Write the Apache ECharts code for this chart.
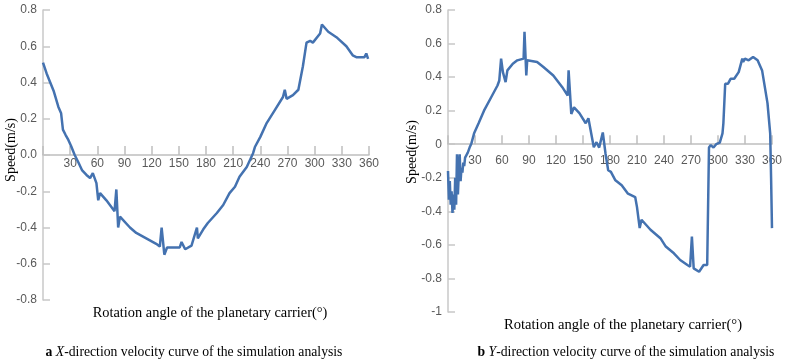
<!DOCTYPE html>
<html><head><meta charset="utf-8">
<script src="https://cdn.jsdelivr.net/npm/echarts@6/dist/echarts.min.js"></script>
<style>html,body{margin:0;padding:0;background:#fff}#c{width:785px;height:361px}</style>
</head><body><div id="c"></div>
<script>
// Left chart (a): X-direction velocity, [angle deg, speed m/s]
const xAngles = [0,4,8,12,17,18,20,22,25,28,31,35,39,43,48,52,55,59,61,63,70,79,81,83,85,96,103,114,125,129,131,134,137,151,153,157,164,170,171,177,182,192,199,206,212,217,225,232,234,240,247,256,265,267,269,276,282,284,287,291,295,298,300,306,308,315,324,335,342,346,355,357,359];
const xSpeeds = [0.51,0.45,0.40,0.35,0.265,0.27,0.23,0.14,0.11,0.083,0.05,0.0,-0.04,-0.083,-0.11,-0.127,-0.10,-0.155,-0.25,-0.21,-0.25,-0.31,-0.19,-0.40,-0.34,-0.40,-0.43,-0.46,-0.49,-0.505,-0.40,-0.55,-0.51,-0.51,-0.48,-0.52,-0.50,-0.40,-0.46,-0.41,-0.375,-0.32,-0.276,-0.21,-0.175,-0.12,-0.066,0.01,0.044,0.10,0.176,0.248,0.32,0.36,0.31,0.33,0.36,0.35,0.49,0.62,0.63,0.62,0.63,0.67,0.72,0.68,0.65,0.60,0.55,0.54,0.54,0.56,0.53];
// Right chart (b): Y-direction velocity
const yAngles = [0,1,2,3,4,5,6,7,8,9,10,11,12,13,14,15,16,17,18,19,20,22,24,26,29,34,40,48,55,57,59,61,64,66,72,77,84,85,87,88,99,106,117,127,133,134,137,140,146,153,156,162,165,168,172,175,178,181,186,193,200,208,210,213,215,225,236,242,251,258,266,269,271,273,279,280,284,288,289,290,292,295,298,300,302,305,306,308,311,314,318,323,327,328,330,334,339,344,349,355,358,359,360];
const ySpeeds = [-0.16,-0.33,-0.22,-0.36,-0.28,-0.41,-0.30,-0.39,-0.20,-0.36,-0.06,-0.30,-0.17,-0.06,-0.22,-0.14,-0.17,-0.11,-0.13,-0.08,-0.09,-0.05,-0.02,0.005,0.065,0.125,0.20,0.28,0.35,0.38,0.51,0.43,0.37,0.44,0.48,0.50,0.51,0.67,0.41,0.50,0.49,0.46,0.41,0.34,0.29,0.44,0.18,0.22,0.185,0.125,0.155,-0.018,0.012,-0.02,0.07,-0.055,-0.155,-0.165,-0.215,-0.245,-0.295,-0.315,-0.375,-0.50,-0.45,-0.51,-0.56,-0.61,-0.65,-0.69,-0.72,-0.73,-0.55,-0.74,-0.76,-0.77,-0.72,-0.72,-0.73,-0.02,-0.005,-0.02,0.0,0.01,0.01,0.065,0.125,0.36,0.36,0.39,0.39,0.43,0.51,0.49,0.51,0.50,0.52,0.50,0.44,0.245,0.065,-0.20,-0.50];
const xTicks = [0,30,60,90,120,150,180,210,240,270,300,330,360];

const pair = (a,b)=>a.map((v,i)=>[v,b[i]]);
const chart = echarts.init(document.getElementById('c'), null, {renderer:'canvas'});
const tickFont = {fontFamily:"'Liberation Sans Narrow','Arial Narrow','Liberation Sans',sans-serif", fontSize:12, color:'#595959'};
const xAxisBase = (gi, margin, offset)=>({
  gridIndex:gi, type:'value', min:0, max:360, interval:30, position:'bottom', offset:offset,
  axisLine:{onZero:false, lineStyle:{color:'#bfbfbf', width:1.5}},
  axisTick:{inside:true, length:9, lineStyle:{color:'#bfbfbf', width:1.5}},
  axisLabel:Object.assign({margin:margin, formatter:v=>v===0?'':String(v)}, tickFont),
  splitLine:{show:false}
});
const yAxisBase = (gi, min, fmt)=>({
  gridIndex:gi, type:'value', min:min, max:0.8, interval:0.2,
  axisLine:{show:true, onZero:false, lineStyle:{color:'#c8c8c8', width:1.5}},
  axisTick:{show:true, inside:true, length:7, lineStyle:{color:'#c8c8c8', width:1.5}},
  axisLabel:Object.assign({margin:6, formatter:fmt}, tickFont),
  splitLine:{show:false}
});
const fmtA = v=>{const r=Math.round(v*10)/10; return (r===0?0:r).toFixed(1);};
const fmtB = v=>{const r=Math.round(v*10)/10; if(r===0) return '0'; return Number.isInteger(r)?String(r):r.toFixed(1);};
const serif = "'Liberation Serif','Times New Roman',serif";
chart.setOption({
  animation:false,
  grid:[{left:43, top:10, width:326, height:290},{left:448, top:10, width:330, height:302}],
  xAxis:[xAxisBase(0,3,-145), xAxisBase(1,10,-167.8)],
  yAxis:[yAxisBase(0,-0.8,fmtA), yAxisBase(1,-1,fmtB)],
  series:[
    {type:'line', xAxisIndex:0, yAxisIndex:0, data:pair(xAngles,xSpeeds), showSymbol:false, lineStyle:{color:'#4472b0', width:2.5}, itemStyle:{color:'#4472b0'}},
    {type:'line', xAxisIndex:1, yAxisIndex:1, data:pair(yAngles,ySpeeds), showSymbol:false, lineStyle:{color:'#4472b0', width:2.5}, itemStyle:{color:'#4472b0'}}
  ],
  graphic:[
    {type:'text', x:11, y:150, rotation:Math.PI/2, style:{text:'Speed(m/s)', font:'14px '+serif, fill:'#000', align:'center', verticalAlign:'middle'}},
    {type:'text', x:412, y:152, rotation:Math.PI/2, style:{text:'Speed(m/s)', font:'14px '+serif, fill:'#000', align:'center', verticalAlign:'middle'}},
    {type:'text', x:210, y:313, style:{text:'Rotation angle of the planetary carrier(°)', font:'14.4px '+serif, fill:'#000', align:'center', verticalAlign:'middle'}},
    {type:'text', x:623, y:325, style:{text:'Rotation angle of the planetary carrier(°)', font:'14.6px '+serif, fill:'#000', align:'center', verticalAlign:'middle'}},
    {type:'text', x:194, y:352, style:{text:'{b|a} {i|X}-direction velocity curve of the simulation analysis', font:'13.7px '+serif, fill:'#000', align:'center', verticalAlign:'middle',
      rich:{b:{fontWeight:'bold', fontFamily:serif, fontSize:13.7}, i:{fontStyle:'italic', fontFamily:serif, fontSize:13.7}}}},
    {type:'text', x:626, y:352, style:{text:'{b|b} {i|Y}-direction velocity curve of the simulation analysis', font:'13.7px '+serif, fill:'#000', align:'center', verticalAlign:'middle',
      rich:{b:{fontWeight:'bold', fontFamily:serif, fontSize:13.7}, i:{fontStyle:'italic', fontFamily:serif, fontSize:13.7}}}}
  ]
});
</script></body></html>
